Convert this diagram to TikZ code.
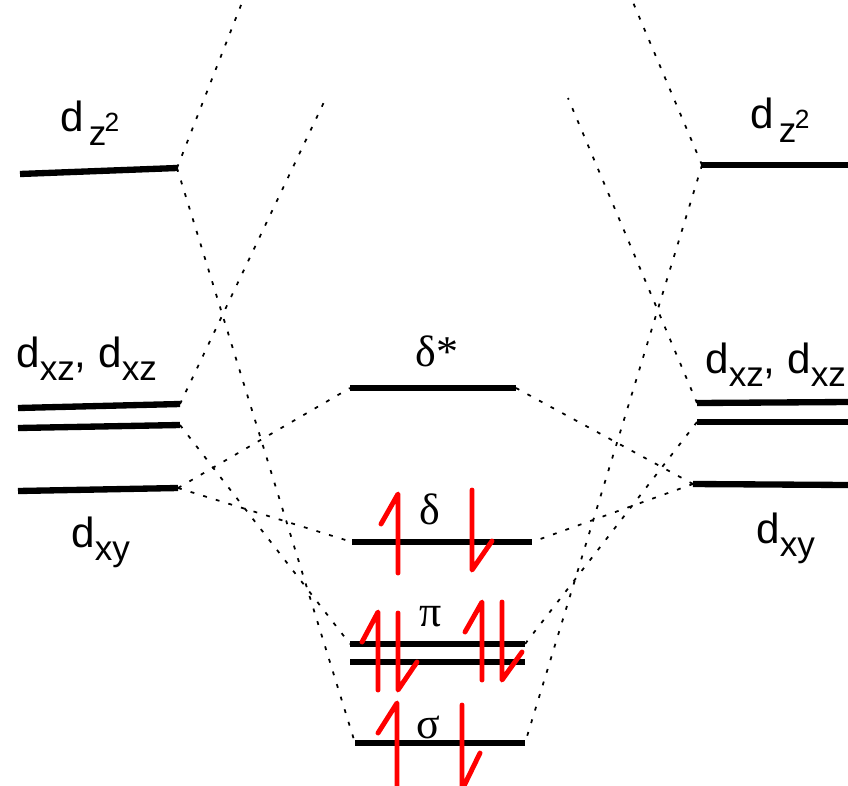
\documentclass[tikz,border=0pt]{standalone}
\usepackage{fontspec}
\usepackage{tikz}
\usetikzlibrary{positioning}
\newfontfamily\orbfont{Liberation Sans}
\newfontfamily\mofont{Liberation Serif}
\newcommand{\dsub}[1]{d\raisebox{-0.32em}{\fontsize{20}{21}\selectfont #1}}
\newcommand{\dzsq}{d\hspace{0.12em}\raisebox{-0.35em}{\fontsize{20}{21}\selectfont z}\hspace{-0.04em}{\fontsize{15}{16}\selectfont 2}}

\begin{document}
\begin{tikzpicture}[
  x=0.02cm, y=-0.02cm,
  lvl/.style={line width=3.6pt},
  tie/.style={line width=1pt, dash pattern=on 2.2pt off 5.3pt},
  spin/.style={red, line width=2.8pt, line cap=round, line join=round},
  orb/.style={font=\fontsize{24}{27}\selectfont\orbfont, inner sep=0pt, anchor=base west},
  mo/.style={font=\fontsize{25}{28}\selectfont\mofont, inner sep=0pt, anchor=base}
]
\useasboundingbox (0,0) rectangle (848,785);
\clip (0,0) rectangle (848,785);

% metal d levels, left
\coordinate (Lz-w) at (20,174);   \coordinate (Lz-e) at (177,168);
\coordinate (Lxz1-w) at (18,408); \coordinate (Lxz1-e) at (180,404);
\coordinate (Lxz2-w) at (18,428); \coordinate (Lxz2-e) at (180,425);
\coordinate (Lxy-w) at (18,491);  \coordinate (Lxy-e) at (178,488);
% metal d levels, right
\coordinate (Rz-w) at (702,165);   \coordinate (Rz-e) at (848,165);
\coordinate (Rxz1-w) at (697,403); \coordinate (Rxz1-e) at (848,402);
\coordinate (Rxz2-w) at (697,422); \coordinate (Rxz2-e) at (848,422);
\coordinate (Rxy-w) at (693,484);  \coordinate (Rxy-e) at (848,485);
% bonding levels
\coordinate (ds-w) at (350,388); \coordinate (ds-e) at (516,388);
\coordinate (d-w) at (352,542);  \coordinate (d-e) at (532,542);
\coordinate (p1-w) at (350,644); \coordinate (p1-e) at (525,644);
\coordinate (p2-w) at (350,662); \coordinate (p2-e) at (525,662);
\coordinate (s-w) at (355,743);  \coordinate (s-e) at (525,743);
% upper levels, off the picture
\coordinate (Ltop1) at (243,0); \coordinate (Ltop2) at (325,100);
\coordinate (Rtop1) at (632,0); \coordinate (Rtop2) at (568,98);

\draw[lvl] (Lz-w) -- (Lz-e);
\draw[lvl] (Lxz1-w) -- (Lxz1-e);
\draw[lvl] (Lxz2-w) -- (Lxz2-e);
\draw[lvl] (Lxy-w) -- (Lxy-e);
\draw[lvl] (Rz-w) -- (Rz-e);
\draw[lvl] (Rxz1-w) -- (Rxz1-e);
\draw[lvl] (Rxz2-w) -- (Rxz2-e);
\draw[lvl] (Rxy-w) -- (Rxy-e);
\draw[lvl] (ds-w) -- (ds-e);
\draw[lvl] (d-w) -- (d-e);
\draw[lvl] (p1-w) -- (p1-e);
\draw[lvl] (p2-w) -- (p2-e);
\draw[lvl] (s-w) -- (s-e);

% correlation lines
\draw[tie] (Lz-e) -- (Ltop1);
\draw[tie] (Lz-e) -- (s-w);
\draw[tie] (Lxz1-e) -- (Ltop2);
\draw[tie] (Lxz2-e) -- (p1-w);
\draw[tie] (Lxy-e) -- (ds-w);
\draw[tie] (Lxy-e) -- (d-w);
\draw[tie] (Rz-w) -- (Rtop1);
\draw[tie] (Rz-w) -- (s-e);
\draw[tie] (Rxz1-w) -- (Rtop2);
\draw[tie] (Rxz2-w) -- (p1-e);
\draw[tie] (Rxy-w) -- (ds-e);
\draw[tie] (Rxy-w) -- (d-e);

% labels
\node[orb] (lbl-Lz) at (60,131) {\dzsq};
\node[orb] (lbl-Rz) at (750,128) {\dzsq};
\node[orb] (lbl-Lxz) at (16,367) {\dsub{xz}, \dsub{xz}};
\node[orb] (lbl-Rxz) at (705,373) {\dsub{xz}, \dsub{xz}};
\node[orb] (lbl-Lxy) at (71,547) {\dsub{xy}};
\node[orb] (lbl-Rxy) at (756,543) {\dsub{xy}};
\node[mo] (lbl-ds) at (437,366) {δ*};
\node[mo] (lbl-d) at (430,524) {δ};
\node[mo] (lbl-p) at (431,626) {π};
\node[mo] (lbl-s) at (428,738) {σ};

% electrons
\draw[spin] (398,573) -- (398,494) -- (381,524);
\draw[spin] (472,490) -- (472,570) -- (492,541);
\draw[spin] (378,690) -- (378,612) -- (362,642);
\draw[spin] (398,613) -- (398,690) -- (417,662);
\draw[spin] (482,680) -- (482,602) -- (465,632);
\draw[spin] (502,602) -- (502,680) -- (522,652);
\draw[spin] (397,790) -- (397,703) -- (378,733);
\draw[spin] (462,705) -- (462,790) -- (480,753);
\end{tikzpicture}
\end{document}
